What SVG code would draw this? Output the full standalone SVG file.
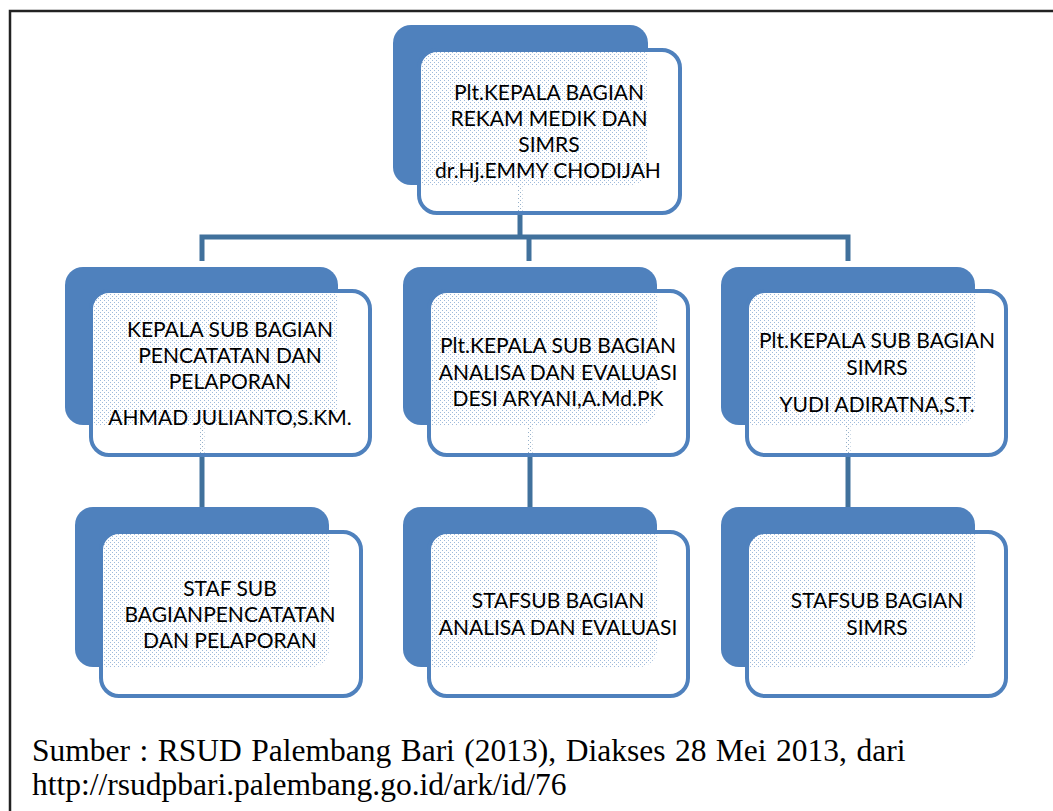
<svg xmlns="http://www.w3.org/2000/svg" width="1053" height="811" viewBox="0 0 1053 811">
<style>
.back{fill:#4f81bd}
.front{fill:url(#dither);stroke:#4f81bd;stroke-width:4}
.conn{fill:none;stroke:#41719c;stroke-width:5}
.t{font-family:Lato,"Open Sans","Liberation Sans",sans-serif;font-size:21px;fill:#000;text-anchor:middle}
.src{font-family:"Liberation Serif","Times New Roman",serif;font-size:31.5px;fill:#000}
</style>
<defs>
<pattern id="dither" width="4" height="4" patternUnits="userSpaceOnUse">
<path d="M0 0H4V4H0Z M0 0H1V1H0Z M2 2H3V3H2Z" fill="#fff" fill-rule="evenodd"/>
<path d="M0 0H1V1H0Z M2 2H3V3H2Z" fill="#fff" fill-opacity="0.45"/>
</pattern>
</defs>
<rect x="0" y="0" width="1053" height="811" fill="#fff"/>
<path d="M10 811 V11 H1053" fill="none" stroke="#222" stroke-width="2.5"/>

<g id="connectors">
<path class="conn" d="M520 185 V237"/>
<path class="conn" d="M202 261 V237 H848 V261"/>
<path class="conn" d="M529 237 V261"/>
<path class="conn" d="M202 425 V507"/>
<path class="conn" d="M530 425 V507"/>
<path class="conn" d="M848 425 V507"/>
</g>

<g id="node-top">
<rect class="back" x="393" y="25" width="255" height="160" rx="18"/>
<rect class="front" x="419" y="50" width="261" height="163" rx="18"/>
<text class="t" x="549" y="100">Plt.KEPALA BAGIAN</text>
<text class="t" x="549" y="126">REKAM MEDIK DAN</text>
<text class="t" x="549" y="152">SIMRS</text>
<text class="t" x="548" y="178">dr.Hj.EMMY CHODIJAH</text>
</g>

<g id="node-pencatatan">
<rect class="back" x="65" y="267" width="273" height="158" rx="18"/>
<rect class="front" x="91" y="291" width="279" height="164" rx="18"/>
<text class="t" x="230" y="337">KEPALA SUB BAGIAN</text>
<text class="t" x="230" y="363">PENCATATAN DAN</text>
<text class="t" x="230" y="389">PELAPORAN</text>
<text class="t" x="230" y="425">AHMAD JULIANTO,S.KM.</text>
</g>

<g id="node-analisa">
<rect class="back" x="403" y="267" width="254" height="158" rx="18"/>
<rect class="front" x="429" y="291" width="259" height="164" rx="18"/>
<text class="t" x="558" y="353">Plt.KEPALA SUB BAGIAN</text>
<text class="t" x="558" y="380">ANALISA DAN EVALUASI</text>
<text class="t" x="558" y="406">DESI ARYANI,A.Md.PK</text>
</g>

<g id="node-simrs">
<rect class="back" x="721" y="267" width="254" height="158" rx="18"/>
<rect class="front" x="747" y="291" width="259" height="164" rx="18"/>
<text class="t" x="877" y="348">Plt.KEPALA SUB BAGIAN</text>
<text class="t" x="877" y="375">SIMRS</text>
<text class="t" x="877" y="412">YUDI ADIRATNA,S.T.</text>
</g>

<g id="node-staf-pencatatan">
<rect class="back" x="75" y="507" width="254" height="160" rx="18"/>
<rect class="front" x="101" y="532" width="260" height="164" rx="18"/>
<text class="t" x="230" y="596">STAF SUB</text>
<text class="t" x="230" y="622">BAGIANPENCATATAN</text>
<text class="t" x="230" y="648">DAN PELAPORAN</text>
</g>

<g id="node-staf-analisa">
<rect class="back" x="403" y="507" width="254" height="160" rx="18"/>
<rect class="front" x="429" y="532" width="259" height="164" rx="18"/>
<text class="t" x="558" y="608">STAFSUB BAGIAN</text>
<text class="t" x="558" y="635">ANALISA DAN EVALUASI</text>
</g>

<g id="node-staf-simrs">
<rect class="back" x="721" y="507" width="254" height="160" rx="18"/>
<rect class="front" x="747" y="532" width="259" height="164" rx="18"/>
<text class="t" x="877" y="608">STAFSUB BAGIAN</text>
<text class="t" x="877" y="635">SIMRS</text>
</g>

<text class="src" x="32" y="761" word-spacing="1.6">Sumber : RSUD Palembang Bari (2013), Diakses 28 Mei 2013, dari</text>
<text class="src" x="32" y="795">http://rsudpbari.palembang.go.id/ark/id/76</text>
</svg>
